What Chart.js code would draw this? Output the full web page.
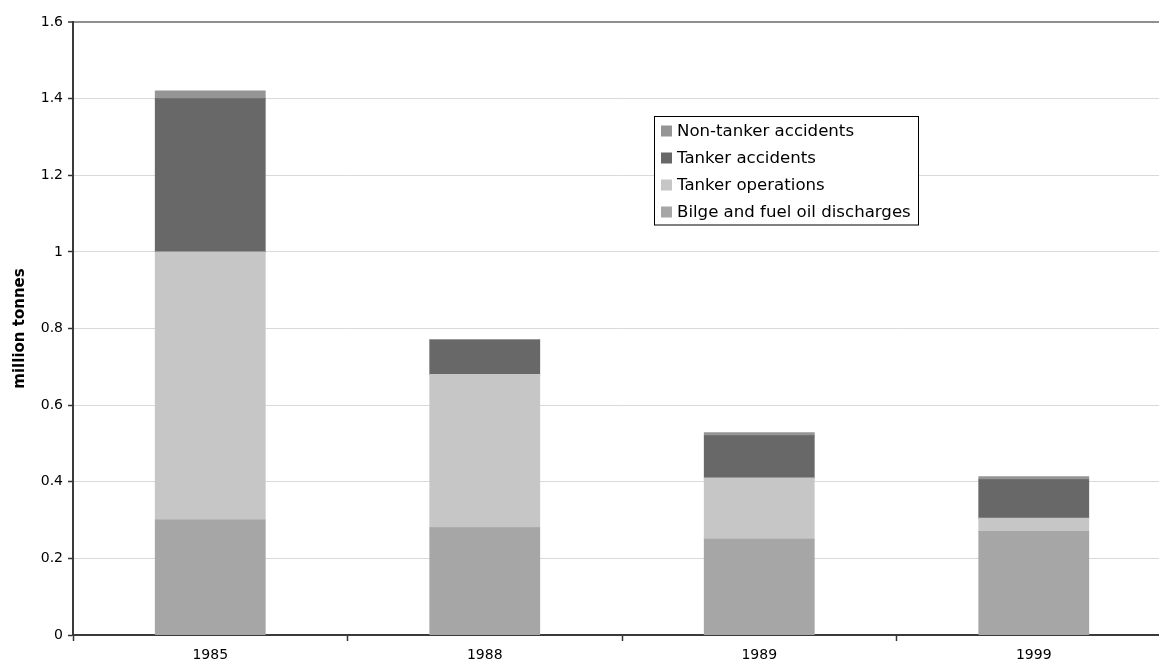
<!DOCTYPE html>
<html>
<head>
<meta charset="utf-8">
<title>Oil inputs from shipping</title>
<script src="https://cdn.jsdelivr.net/npm/chart.js@4/dist/chart.umd.min.js"></script>
<style>
  html, body { margin: 0; padding: 0; background: #ffffff; overflow: hidden; }
  #wrap { width: 1171px; height: 669px; }
</style>
</head>
<body>
<div id="wrap"><canvas id="chart" width="1171" height="669"></canvas></div>
<script>
// Years shown on the category axis
const years = ['1985', '1988', '1989', '1999'];

// Oil entering the sea, million tonnes, by source (stacked bottom to top)
const bilgeFuelOil = [0.30, 0.28, 0.25, 0.27];
const tankerOperations = [0.70, 0.40, 0.16, 0.035];
const tankerAccidents = [0.40, 0.09, 0.11, 0.10];
const nonTankerAccidents = [0.02, 0.0, 0.008, 0.008];

// Value axis labels
const yTickLabels = ['0', '0.2', '0.4', '0.6', '0.8', '1', '1.2', '1.4', '1.6'];

const FONT = '"DejaVu Sans", "Liberation Sans", Arial, sans-serif';

// Boxed legend inside the plot, listing series from top of the stack down
const boxLegend = {
  id: 'boxLegend',
  afterDraw(chart) {
    const ctx = chart.ctx;
    const x0 = 654.5, y0 = 116.5, w = 264, h = 108.5;
    ctx.save();
    ctx.fillStyle = '#ffffff';
    ctx.fillRect(x0, y0, w, h);
    ctx.strokeStyle = '#000000';
    ctx.lineWidth = 1;
    ctx.strokeRect(x0, y0, w, h);
    const items = chart.data.datasets.slice().reverse();
    ctx.font = '16.6px ' + FONT;
    ctx.textBaseline = 'middle';
    ctx.textAlign = 'left';
    items.forEach((ds, i) => {
      const cy = 131 + i * 27;
      ctx.fillStyle = ds.backgroundColor;
      ctx.fillRect(661, cy - 5.5, 11, 11);
      ctx.fillStyle = '#000000';
      ctx.fillText(ds.label, 677, cy + 0.5);
    });
    ctx.restore();
  }
};

new Chart(document.getElementById('chart'), {
  type: 'bar',
  data: {
    labels: years,
    datasets: [
      { label: 'Bilge and fuel oil discharges', data: bilgeFuelOil, backgroundColor: '#a6a6a6' },
      { label: 'Tanker operations', data: tankerOperations, backgroundColor: '#c6c6c6' },
      { label: 'Tanker accidents', data: tankerAccidents, backgroundColor: '#686868' },
      { label: 'Non-tanker accidents', data: nonTankerAccidents, backgroundColor: '#959595' }
    ]
  },
  options: {
    responsive: false,
    animation: false,
    devicePixelRatio: 1,
    layout: { padding: { left: 0, right: 0, top: 22, bottom: 0 } },
    datasets: {
      bar: { categoryPercentage: 1.0, barPercentage: 0.4, borderWidth: 0, inflateAmount: 0.5 }
    },
    plugins: {
      legend: { display: false },
      tooltip: { enabled: false },
      title: { display: false }
    },
    scales: {
      x: {
        stacked: true,
        offset: true,
        grid: {
          offset: true,
          drawOnChartArea: false,
          drawTicks: true,
          tickLength: 6,
          tickColor: '#333333',
          tickWidth: 1.5
        },
        border: { display: true, color: '#3a3a3a', width: 2 },
        ticks: {
          color: '#000000',
          padding: 6,
          font: { family: FONT, size: 14 },
          maxRotation: 0
        },
        afterFit(scale) { scale.height = 34; }
      },
      y: {
        stacked: true,
        min: 0,
        max: 1.6,
        grid: {
          color: (c) => (c.tick && Math.abs(c.tick.value - 1.6) < 1e-9) ? '#8f8f8f' : '#d9d9d9',
          lineWidth: (c) => (c.tick && Math.abs(c.tick.value - 1.6) < 1e-9) ? 2 : 1,
          drawTicks: true,
          tickLength: 5,
          tickColor: '#333333',
          tickWidth: 1.5
        },
        border: { display: true, color: '#3a3a3a', width: 2 },
        ticks: {
          stepSize: 0.2,
          color: '#000000',
          padding: 5,
          font: { family: FONT, size: 14 },
          callback: (value, index) => yTickLabels[index]
        },
        title: {
          display: true,
          text: 'million tonnes',
          color: '#000000',
          font: { family: FONT, size: 15, weight: 'bold' },
          padding: { top: 11, bottom: 0 }
        },
        afterFit(scale) { scale.width = 73; }
      }
    }
  },
  plugins: [boxLegend]
});
</script>
</body>
</html>
